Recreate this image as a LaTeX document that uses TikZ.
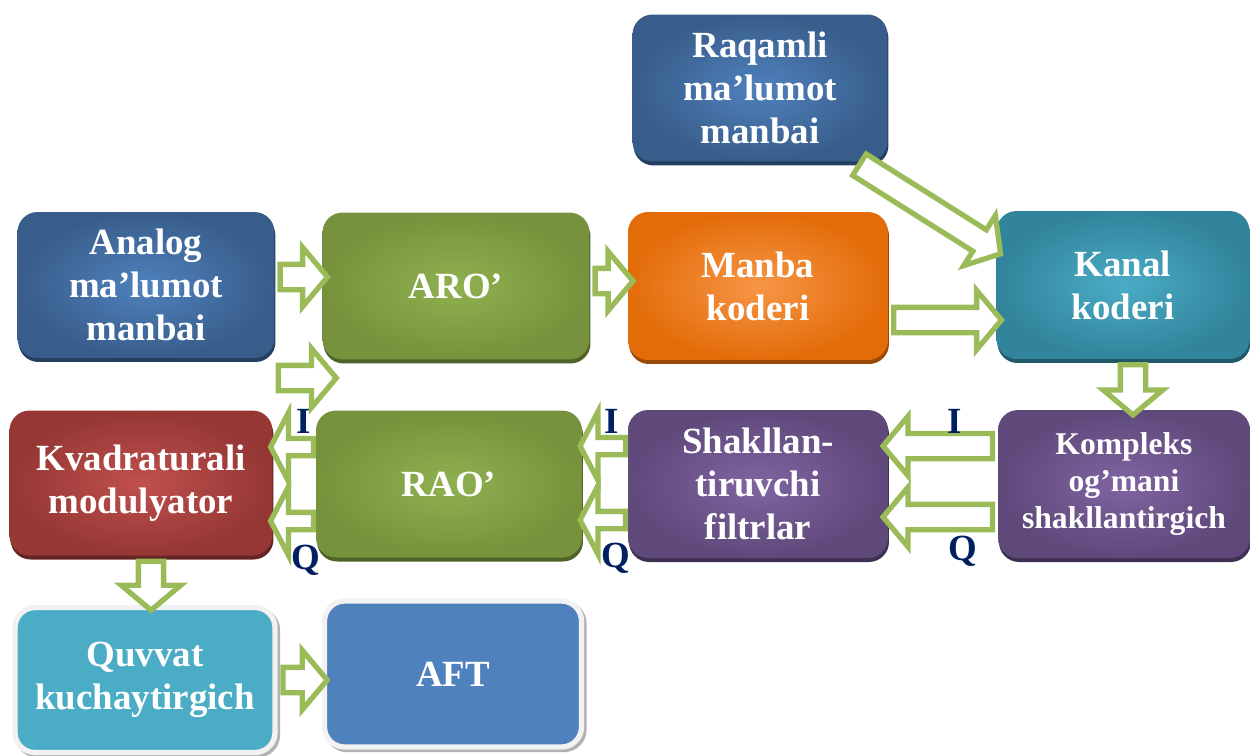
\documentclass[tikz,border=0pt]{standalone}
\usepackage{fontspec}
\setmainfont{Liberation Serif}
\usetikzlibrary{shapes.arrows,shadows,calc}
\definecolor{srcblue}{HTML}{4F81BD}
\definecolor{srcblueedge}{HTML}{385D8A}
\definecolor{srcblueshade}{HTML}{243F60}
\definecolor{convgreen}{HTML}{8FB150}
\definecolor{convgreenedge}{HTML}{76923C}
\definecolor{convgreenshade}{HTML}{4F6228}
\definecolor{coderorange}{HTML}{F79646}
\definecolor{coderorangeedge}{HTML}{E36C09}
\definecolor{coderorangeshade}{HTML}{984807}
\definecolor{chanteal}{HTML}{4BACC6}
\definecolor{chantealedge}{HTML}{31849B}
\definecolor{chantealshade}{HTML}{215968}
\definecolor{modred}{HTML}{C0504D}
\definecolor{modrededge}{HTML}{953735}
\definecolor{modredshade}{HTML}{632523}
\definecolor{shapepurple}{HTML}{8064A2}
\definecolor{shapepurpleedge}{HTML}{5F497A}
\definecolor{shapepurpleshade}{HTML}{3F3151}
\definecolor{ampteal}{HTML}{4BACC6}
\definecolor{antblue}{HTML}{4F81BD}
\definecolor{arrowgreen}{HTML}{9BBB59}
\definecolor{iqnavy}{HTML}{002060}

\tikzset{
  box/.style={rounded corners=0.4cm, inner sep=0pt, align=center, text=white,
    font=\fontsize{21}{24.5}\selectfont\bfseries},
  tone/.style n args={3}{box, shade, inner color=#1, outer color=#2,
    general shadow={fill=#3, shadow xshift=0.02cm, shadow yshift=-0.08cm}},
  sourcebox/.style={tone={srcblue}{srcblueedge}{srcblueshade}},
  convbox/.style={tone={convgreen}{convgreenedge}{convgreenshade}},
  coderbox/.style={tone={coderorange}{coderorangeedge}{coderorangeshade}},
  channelbox/.style={tone={chanteal}{chantealedge}{chantealshade}},
  modbox/.style={tone={modred}{modrededge}{modredshade}},
  shapebox/.style={tone={shapepurple}{shapepurpleedge}{shapepurpleshade}},
  flatbox/.style={box, fill=#1, draw=black!5, line width=3pt,
    general shadow={fill=black!30, draw=black!30, shadow xshift=0.05cm, shadow yshift=-0.05cm}},
  flowarrow/.style={single arrow, draw=arrowgreen, fill=white, line width=3pt,
    inner xsep=0pt, inner ysep=0.2cm, single arrow head extend=0.34cm,
    single arrow tip angle=100, sloped, allow upside down},
  iqarrow/.style={flowarrow, inner ysep=0.12cm, single arrow head extend=0.52cm,
    single arrow tip angle=125},
  iqlabel/.style={text=iqnavy, font=\fontsize{21}{24}\selectfont\bfseries, inner sep=0pt},
}

\begin{document}
\begin{tikzpicture}[x=0.02cm,y=-0.02cm,line join=miter]
  \useasboundingbox (0,0) rectangle (1250,755);

  % Sources and coders
  \node[sourcebox,minimum width=5.1cm,minimum height=2.94cm] (raqamli) at (760,88)
    {Raqamli\\ma’lumot\\manbai};
  \node[sourcebox,minimum width=5.14cm,minimum height=2.92cm] (analog) at (146,285)
    {Analog\\ma’lumot\\manbai};
  \node[convbox,minimum width=5.34cm,minimum height=2.94cm] (aro) at (456,286) {ARO’};
  \node[coderbox,minimum width=5.2cm,minimum height=2.96cm] (manba) at (758,286)
    {Manba\\koderi};
  \node[channelbox,minimum width=5.06cm,minimum height=2.96cm] (kanal) at (1123,285)
    {Kanal\\koderi};

  % Baseband chain
  \node[shapebox,minimum width=5.04cm,minimum height=2.96cm,
    font=\fontsize{18}{21}\selectfont\bfseries] (kompleks) at (1124,484)
    {Kompleks\\og’mani\\shakllantirgich};
  \node[shapebox,minimum width=5.2cm,minimum height=2.96cm] (shakl) at (758,484)
    {Shakllan-\\tiruvchi\\filtrlar};
  \node[convbox,minimum width=5.32cm,minimum height=2.94cm] (rao) at (449,484) {RAO’};
  \node[modbox,minimum width=5.26cm,minimum height=2.9cm] (kvadr) at (141,483)
    {Kvadraturali\\modulyator};

  % Output stage
  \node[flatbox=ampteal,minimum width=5.2cm,minimum height=2.9cm] (quvvat) at (145,680)
    {Quvvat\\kuchaytirgich};
  \node[flatbox=antblue,minimum width=5.14cm,minimum height=2.92cm] (aft) at (453,674)
    {AFT};

  \coordinate (spare-a) at (273,378);
  \coordinate (spare-b) at (331,378);

  % Horizontal block arrows
  \foreach \a/\b/\dy in {analog.east/aro.west/0.16, aro.east/manba.west/0.1,
      manba.east/kanal.west/-0.68, spare-a/spare-b/0,
      kompleks.west/shakl.east/0.76, kompleks.west/shakl.east/-0.66,
      quvvat.east/aft.west/0}{
    \path let \p1=([yshift=\dy cm]\a), \p2=([yshift=\dy cm]\a -| \b),
      \n1={veclen(\x2-\x1,\y2-\y1)} in
      (\p1) -- (\p2) node[flowarrow,midway,minimum height=\n1] {};
  }
  \foreach \a/\b/\dy in {shakl.west/rao.east/0.76, shakl.west/rao.east/-0.72,
      rao.west/kvadr.east/0.74, rao.west/kvadr.east/-0.74}{
    \path let \p1=([yshift=\dy cm]\a), \p2=([yshift=\dy cm]\a -| \b),
      \n1={veclen(\x2-\x1,\y2-\y1)} in
      (\p1) -- (\p2) node[iqarrow,midway,minimum height=\n1] {};
  }

  % Vertical block arrows
  \foreach \a/\b/\dx in {kanal.south/kompleks.north/0.2, kvadr.south/quvvat.north/0.2}{
    \path let \p1=([xshift=\dx cm]\a), \p2=([xshift=\dx cm]\a |- \b),
      \n1={veclen(\x2-\x1,\y2-\y1)} in
      (\p1) -- (\p2) node[flowarrow,midway,minimum height=\n1] {};
  }

  % Digital source into channel coder
  \path let \p1=([xshift=-0.66cm]raqamli.south east), \p2=([yshift=0.68cm]kanal.west),
    \n1={veclen(\x2-\x1,\y2-\y1)} in
    (\p1) -- (\p2) node[flowarrow,midway,minimum height=\n1] {};

  % I and Q branches
  \node[iqlabel] (i-out) at (955,421) {I};
  \node[iqlabel] (q-out) at (963,551) {Q};
  \node[iqlabel] (i-filt) at (612,421) {I};
  \node[iqlabel] (q-filt) at (616,558) {Q};
  \node[iqlabel] (i-rao) at (304,421) {I};
  \node[iqlabel] (q-rao) at (306,560) {Q};
\end{tikzpicture}
\end{document}
